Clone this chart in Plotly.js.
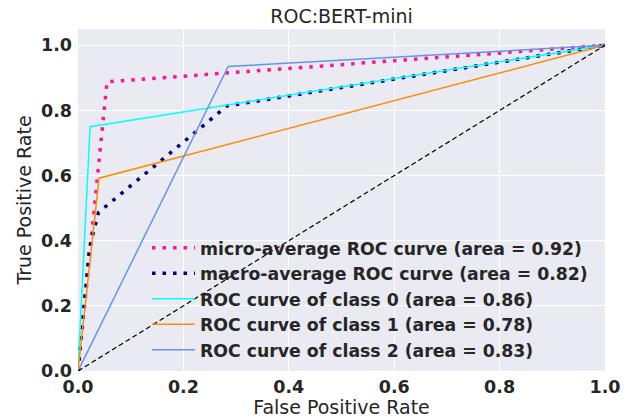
<!DOCTYPE html>
<html>
<head>
<meta charset="utf-8">
<script src="https://cdn.plot.ly/plotly-3.0.1.min.js"></script>
<style>html,body{margin:0;padding:0;background:#fff;}#chart{width:632px;height:419px;}</style>
</head>
<body>
<div id="chart"></div>
<script>
// Data
const microFpr = [0.0, 0.055, 1.0];
const microTpr = [0.0, 0.888, 1.0];
const macroFpr = [0.0, 0.022, 0.039, 0.283, 1.0];
const macroTpr = [0.0, 0.38, 0.487, 0.814, 1.0];
const c0Fpr = [0.0, 0.023, 1.0];
const c0Tpr = [0.0, 0.750, 1.0];
const c1Fpr = [0.0, 0.040, 1.0];
const c1Tpr = [0.0, 0.592, 1.0];
const c2Fpr = [0.0, 0.285, 1.0];
const c2Tpr = [0.0, 0.935, 1.0];
const diagX = [0, 1];
const diagY = [0, 1];
const names = [
  "micro-average ROC curve (area = 0.92)",
  "macro-average ROC curve (area = 0.82)",
  "ROC curve of class 0 (area = 0.86)",
  "ROC curve of class 1 (area = 0.78)",
  "ROC curve of class 2 (area = 0.83)"
];
const tickVals = [0, 0.2, 0.4, 0.6, 0.8, 1.0];
const tickText = ["0.0", "0.2", "0.4", "0.6", "0.8", "1.0"];

const dotted = "3.5px,7px";
const traces = [
  {x: microFpr, y: microTpr, name: names[0], line: {color: "deeppink", width: 3.5, dash: dotted}},
  {x: macroFpr, y: macroTpr, name: names[1], line: {color: "navy", width: 3.5, dash: dotted}},
  {x: c0Fpr, y: c0Tpr, name: names[2], line: {color: "aqua", width: 1.5}},
  {x: c1Fpr, y: c1Tpr, name: names[3], line: {color: "darkorange", width: 1.5}},
  {x: c2Fpr, y: c2Tpr, name: names[4], line: {color: "cornflowerblue", width: 1.5}},
  {x: diagX, y: diagY, showlegend: false, line: {color: "black", width: 1.2, dash: "5px,3px"}}
].map(t => Object.assign({type: "scatter", mode: "lines", hoverinfo: "skip"}, t));

const txt = "#262626";
const layout = {
  width: 632, height: 419,
  margin: {l: 78, r: 27, t: 29, b: 48, pad: 0},
  paper_bgcolor: "#ffffff",
  plot_bgcolor: "#EAEAF2",
  font: {family: "DejaVu Sans", color: txt, size: 17},
  title: {text: "ROC:BERT-mini", x: 0.5, xref: "paper", y: 0.96, yref: "container", yanchor: "middle",
          font: {family: "DejaVu Sans", size: 19, color: txt}},
  xaxis: {
    range: [0, 1], tickvals: tickVals, ticktext: tickText,
    showgrid: true, gridcolor: "#ffffff", gridwidth: 1, zeroline: false, showline: false,
    ticks: "", ticklabelstandoff: 3, tickfont: {family: "DejaVu Sans", size: 17.5, weight: "bold", color: txt},
    title: {text: "False Positive Rate", standoff: 3, font: {family: "DejaVu Sans", size: 19, color: txt}}
  },
  yaxis: {
    range: [0, 1.05], tickvals: tickVals, ticktext: tickText,
    showgrid: true, gridcolor: "#ffffff", gridwidth: 1, zeroline: false, showline: false,
    ticks: "", ticklabelstandoff: 5, tickfont: {family: "DejaVu Sans", size: 17.5, weight: "bold", color: txt},
    title: {text: "True Positive Rate", standoff: 4, font: {family: "DejaVu Sans", size: 19, color: txt}}
  },
  legend: {
    x: 0.131, xanchor: "left", y: 0.412, yanchor: "top",
    bgcolor: "rgba(0,0,0,0)", borderwidth: 0, itemwidth: 43,
    font: {family: "DejaVu Sans", size: 17.3, weight: "bold", color: txt},
    traceorder: "normal"
  },
  showlegend: true
};

Plotly.newPlot("chart", traces, layout, {staticPlot: true, displayModeBar: false});
</script>
</body>
</html>
